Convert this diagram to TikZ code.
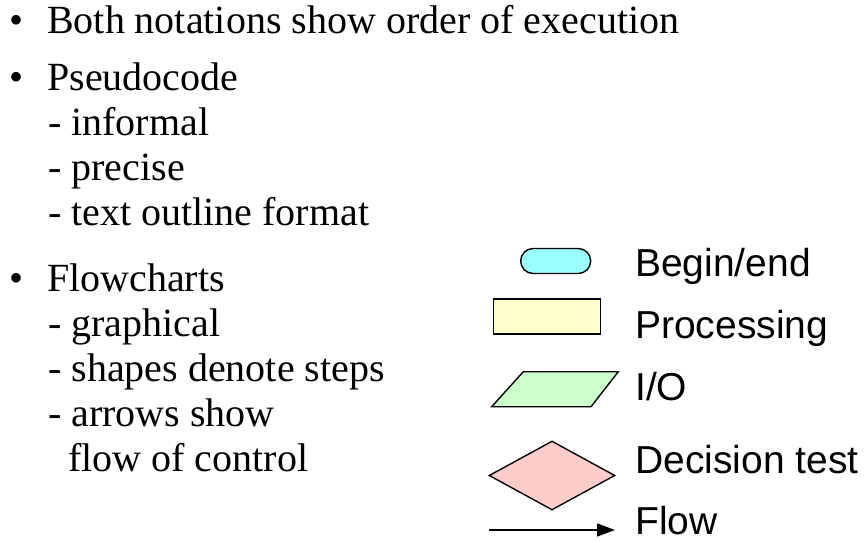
\documentclass[tikz,border=0pt]{standalone}
\usepackage{fontspec}
\setmainfont{Liberation Serif}
\newfontfamily\labelfont{Liberation Sans}
\usetikzlibrary{arrows.meta,shapes.geometric}

\definecolor{termfill}{RGB}{153,255,255}
\definecolor{procfill}{RGB}{255,255,204}
\definecolor{iofill}{RGB}{204,255,204}
\definecolor{decfill}{RGB}{255,204,204}

\tikzset{
  bodytext/.style={anchor=base west, inner sep=0pt, font=\fontsize{40}{46}\selectfont},
  keytext/.style={anchor=base west, inner sep=0pt, font=\labelfont\fontsize{39}{45}\selectfont},
  shapeline/.style={draw=black, line width=1.4pt},
}

\begin{document}
\begin{tikzpicture}[x=1pt, y=-1pt]
  \useasboundingbox (0,0) rectangle (868,541);

  % bullet list
  \node[bodytext] (b1) at (9,33) {\textbullet};
  \node[bodytext] (t1) at (47,33) {Both notations show order of execution};
  \node[bodytext] (b2) at (9,90) {\textbullet};
  \node[bodytext] (t2) at (47,90) {Pseudocode};
  \node[bodytext] (t2a) at (48,135) {- informal};
  \node[bodytext] (t2b) at (48,180) {- precise};
  \node[bodytext] (t2c) at (48,225) {- text outline format};
  \node[bodytext] (b3) at (9,291) {\textbullet};
  \node[bodytext] (t3) at (47,291) {Flowcharts};
  \node[bodytext] (t3a) at (48,336) {- graphical};
  \node[bodytext] (t3b) at (48,381) {- shapes denote steps};
  \node[bodytext] (t3c) at (48,426) {- arrows show};
  \node[bodytext] (t3d) at (68,471) {flow of control};

  % legend symbols
  \node[shapeline, fill=termfill, rectangle, rounded corners=12.5pt,
        minimum width=70pt, minimum height=25pt, inner sep=0pt] (term) at (555.7,261) {};
  \node[shapeline, fill=procfill, rectangle, line width=1.8pt,
        minimum width=107pt, minimum height=35pt, inner sep=0pt] (proc) at (547,316.7) {};
  \draw[shapeline, fill=iofill] (523.3,371.7) -- (618.3,371.7) -- (591,406.7) -- (491.7,406.7) -- cycle;
  \node[shapeline, fill=decfill, diamond, aspect=1.83,
        minimum width=126pt, minimum height=69pt, inner sep=0pt] (dec) at (552,475.5) {};
  \coordinate (flowstart) at (489,530);
  \coordinate (flowend) at (615,530);
  \draw[line width=1.4pt, -{Triangle[length=18pt,width=13pt]}] (flowstart) -- (flowend);

  % legend labels
  \node[keytext] (lterm) at (635,276) {Begin/end};
  \node[keytext] (lproc) at (635,338.5) {Processing};
  \node[keytext] (lio) at (635,400.7) {I/O};
  \node[keytext] (ldec) at (635,473) {Decision test};
  \node[keytext] (lflow) at (635,534) {Flow};
\end{tikzpicture}
\end{document}
